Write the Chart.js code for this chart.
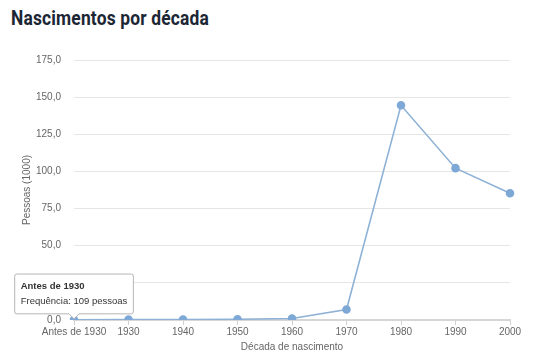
<!DOCTYPE html>
<html>
<head>
<meta charset="utf-8">
<script src="https://cdn.jsdelivr.net/npm/chart.js@4"></script>
<style>
  html, body { margin: 0; padding: 0; background: #fff; }
  #wrap { position: relative; width: 540px; height: 363px; }
  h1 {
    position: absolute; left: 11px; top: 6px; margin: 0;
    font-family: Roboto, sans-serif; font-weight: 700; font-size: 20px;
    color: #1c2634; letter-spacing: 0.2px;
    transform: scaleX(0.87); transform-origin: left top;
  }
  canvas { position: absolute; left: 0; top: 0; }
</style>
</head>
<body>
<div id="wrap">
  <h1>Nascimentos por década</h1>
  <canvas id="births" width="540" height="363"></canvas>
</div>
<script>
// decades of birth (x) and people in thousands (y)
const decades = ['Antes de 1930', '1930', '1940', '1950', '1960', '1970', '1980', '1990', '2000'];
const people = [0.109, 0.3, 0.3, 0.5, 1.0, 7.1, 144.5, 102.2, 85.3];
const yTicks = [0, 25, 50, 75, 100, 125, 150, 175];

const GREY = '#666';
const FONT = { family: "'Liberation Sans', Arial, sans-serif", size: 10 };
const TIP_FONT = { family: "'Liberation Sans', Arial, sans-serif", size: 9.5 };

const ctx = document.getElementById('births');
const chart = new Chart(ctx, {
  type: 'line',
  data: {
    labels: decades,
    datasets: [{
      data: people,
      borderColor: '#8eb1d6',
      borderWidth: 1.6,
      pointBackgroundColor: '#7ea8d6',
      pointBorderColor: '#7ea8d6',
      pointRadius: 3.5,
      pointHoverRadius: 3.5,
      tension: 0
    }]
  },
  options: {
    responsive: false,
    animation: false,
    layout: { padding: { top: 60, left: 6, right: 30, bottom: 6 } },
    plugins: {
      legend: { display: false },
      tooltip: {
        enabled: true,
        backgroundColor: '#fff',
        borderColor: '#b5b5b5',
        borderWidth: 1,
        titleColor: '#333',
        bodyColor: '#333',
        titleFont: { ...TIP_FONT, weight: 'bold' },
        bodyFont: TIP_FONT,
        titleMarginBottom: 3,
        padding: { x: 6, y: 7 },
        cornerRadius: 2,
        caretSize: 5,
        caretPadding: 1,
        displayColors: false,
        xAlign: 'center',
        yAlign: 'bottom',
        callbacks: {
          title: items => items[0].label,
          label: item => 'Frequência: ' + Math.round(item.raw * 1000) + ' pessoas'
        }
      }
    },
    scales: {
      x: {
        offset: false,
        grid: { drawOnChartArea: false, drawTicks: true, tickLength: 5, color: '#d0d0d0' },
        border: { color: '#d6d6d6', width: 2 },
        ticks: { color: GREY, font: FONT, maxRotation: 0, autoSkip: false, padding: 1 },
        title: { display: true, text: 'Década de nascimento', color: GREY, font: FONT, padding: { top: 2 } }
      },
      y: {
        min: 0,
        max: 175,
        afterBuildTicks: axis => { axis.ticks = yTicks.map(v => ({ value: v })); },
        grid: { color: '#e6e6e6', drawTicks: false },
        border: { display: false },
        ticks: {
          color: GREY, font: FONT, padding: 13,
          callback: v => v.toFixed(1).replace('.', ',')
        },
        title: { display: true, text: 'Pessoas (1000)', color: GREY, font: FONT, padding: { top: 15, bottom: -10 } }
      }
    }
  }
});

// show the tooltip on the first point, as in the reference
const first = chart.getDatasetMeta(0).data[0];
chart.tooltip.setActiveElements([{ datasetIndex: 0, index: 0 }], { x: first.x, y: first.y });
chart.update();
</script>
</body>
</html>
